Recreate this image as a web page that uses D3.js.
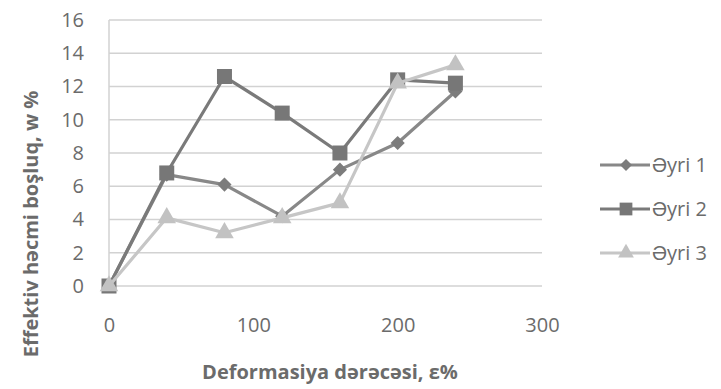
<!DOCTYPE html>
<html>
<head>
<meta charset="utf-8">
<script src="https://cdn.jsdelivr.net/npm/d3@7"></script>
<style>
  body { margin: 0; background: #fff; }
  text { font-family: "Open Sans", sans-serif; fill: #6b6b6b; }
</style>
</head>
<body>
<div id="chart"></div>
<script>
var xs = [0, 40, 80, 120, 160, 200, 240];
var ayri1 = [0, 6.7, 6.1, 4.2, 7.0, 8.6, 11.7];
var ayri2 = [0, 6.8, 12.6, 10.4, 8.0, 12.4, 12.2];
var ayri3 = [0, 4.1, 3.2, 4.1, 5.0, 12.2, 13.3];
var names = ['Əyri 1', 'Əyri 2', 'Əyri 3'];
var xTicks = [0, 100, 200, 300];
var yTicks = [0, 2, 4, 6, 8, 10, 12, 14, 16];

var W = 721, H = 389;
var svg = d3.select('#chart').append('svg').attr('width', W).attr('height', H);

var x = d3.scaleLinear().domain([0, 300]).range([109, 542]);
var y = d3.scaleLinear().domain([0, 16]).range([286, 20]);

// grid
svg.append('g').selectAll('line')
    .data(yTicks)
  .enter().append('line')
    .attr('x1', x(0)).attr('x2', x(300))
    .attr('y1', function(d) { return y(d); })
    .attr('y2', function(d) { return y(d); })
    .style('stroke', '#d2d2d2')
    .style('stroke-width', 1.5);

svg.append('line')
    .attr('x1', x(0)).attr('x2', x(0))
    .attr('y1', y(16)).attr('y2', y(0))
    .style('stroke', '#d2d2d2')
    .style('stroke-width', 1.5);

// axes (labels only)
var yAxis = svg.append('g')
    .attr('transform', 'translate(' + (x(0) - 25) + ',0)')
    .call(d3.axisLeft(y).tickValues(yTicks).tickSize(0).tickPadding(0));
var xAxis = svg.append('g')
    .attr('transform', 'translate(0,' + (y(0) + 24) + ')')
    .call(d3.axisBottom(x).tickValues(xTicks).tickSize(0).tickPadding(8));
[yAxis, xAxis].forEach(function(a) {
  a.select('.domain').remove();
  a.selectAll('text')
      .style('font-family', '"Open Sans", sans-serif')
      .style('font-size', '20px')
      .style('fill', '#6b6b6b');
});

// titles
svg.append('text')
    .attr('transform', 'translate(38,224) rotate(-90)')
    .attr('text-anchor', 'middle')
    .style('font-size', '20px')
    .style('font-weight', 'bold')
    .text('Effektiv həcmi boşluq, w %');

svg.append('text')
    .attr('x', 330).attr('y', 379)
    .attr('text-anchor', 'middle')
    .style('font-size', '20px')
    .style('font-weight', 'bold')
    .text('Deformasiya dərəcəsi, ε%');

var series = [
  { name: names[0], values: ayri1, line: '#888', fill: '#7c7c7c', shape: 'diamond' },
  { name: names[1], values: ayri2, line: '#7a7a7a', fill: '#777', shape: 'square' },
  { name: names[2], values: ayri3, line: '#c6c6c6', fill: '#c2c2c2', shape: 'triangle' }
];

function marker(sel, shape, scale) {
  var s = scale || 1;
  if (shape === 'diamond') {
    sel.attr('d', d3.symbol().type(d3.symbolSquare).size(100 * s * s)())
       .attr('transform', function(d) { return d3.select(this).attr('transform') + ' rotate(45)'; });
  } else if (shape === 'square') {
    sel.attr('d', d3.symbol().type(d3.symbolSquare).size(225 * s * s)());
  } else {
    sel.attr('d', d3.symbol().type(d3.symbolTriangle).size(150 * s * s)());
  }
}

var line = d3.line()
    .x(function(d, i) { return x(xs[i]); })
    .y(function(d) { return y(d); });

series.forEach(function(s) {
  svg.append('path')
      .datum(s.values)
      .attr('d', line)
      .style('fill', 'none')
      .style('stroke', s.line)
      .style('stroke-width', 3.2)
      .style('stroke-linejoin', 'round');
  svg.append('g').selectAll('path')
      .data(s.values)
    .enter().append('path')
      .attr('transform', function(d, i) { return 'translate(' + x(xs[i]) + ',' + y(d) + ')'; })
      .style('fill', s.fill)
      .call(marker, s.shape);
});

// legend
var leg = svg.append('g');
series.forEach(function(s, i) {
  var ly = 165 + i * 44;
  leg.append('line')
      .attr('x1', 600).attr('x2', 650)
      .attr('y1', ly).attr('y2', ly)
      .style('stroke', s.line)
      .style('stroke-width', 3.2);
  leg.append('path')
      .attr('transform', 'translate(626,' + ly + ')')
      .style('fill', s.fill)
      .call(marker, s.shape, 0.85);
  leg.append('text')
      .attr('x', 652).attr('y', ly)
      .attr('dy', '0.35em')
      .style('font-size', '20px')
      .text(s.name);
});
</script>
</body>
</html>
